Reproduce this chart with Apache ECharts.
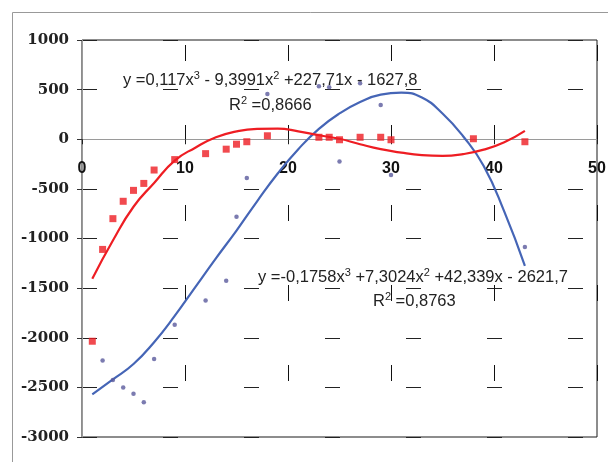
<!DOCTYPE html>
<html>
<head>
<meta charset="utf-8">
<script src="https://cdn.jsdelivr.net/npm/echarts@6/dist/echarts.min.js"></script>
<style>
  html, body { margin: 0; padding: 0; background: #fff; }
  #main { width: 608px; height: 462px; }
</style>
</head>
<body>
<div id="main"></div>
<script>
// measured points (x shared by both series)
const xs = [1, 2, 3, 4, 5, 6, 7, 9, 12, 14, 15, 16, 18, 23, 24, 25, 27, 29, 30, 38, 43];
const redVals = [-2035, -1110, -800, -625, -515, -445, -310, -205, -145, -100, -50, -25, 35, 20, 20, -5, 20, 20, -5, 5, -25];
const blueVals = [null, -2230, -2425, -2500, -2565, -2650, -2215, -1870, -1625, -1425, -780, -390, 455, 535, 525, -225, 565, 345, -360, null, -1085];

// trend lines
const trendX = [1, 3, 5, 7, 9, 11, 13, 15, 17, 19, 21, 23, 25, 27, 29, 31, 33, 35, 37, 39, 41, 43];
const redTrend = [-1405, -1020, -680, -440, -215, -85, 20, 80, 105, 108, 80, 40, 5, -50, -100, -135, -160, -168, -150, -105, -30, 85];
const blueTrend = [-2570, -2420, -2265, -2045, -1780, -1490, -1200, -920, -625, -345, -100, 105, 260, 375, 450, 470, 420, 260, 30, -270, -730, -1275];

const eqRed = '{a|y =0,117x}{s|3}{a| - 9,3991x}{s|2}{a| +227,71x - 1627,8}';
const r2Red = '{a|R}{s|2}{a| =0,8666}';
const eqBlue = '{a|y =-0,1758x}{s|3}{a| +7,3024x}{s|2}{a| +42,339x - 2621,7}';
const r2Blue = '{a|R}{s|2}{a| =0,8763}';

function pairs(x, y) {
    return x.map((v, i) => [v, y[i]]).filter(p => p[1] !== null);
}

const RED = '#ee1d23';
const BLUE = '#4565b6';

const rich = {
    a: { fontFamily: 'Liberation Sans', fontSize: 16.5, fill: '#222', lineHeight: 20 },
    s: { fontFamily: 'Liberation Sans', fontSize: 11, fill: '#222', verticalAlign: 'top' }
};

function eqText(x, y, txt) {
    return {
        type: 'text', x: x, y: y, z: 20,
        style: { text: txt, rich: rich, verticalAlign: 'middle', fill: '#222' }
    };
}

const option = {
    animation: false,
    grid: { left: 82, right: 11, top: 40, bottom: 25, show: true, borderColor: '#1a1a1a', borderWidth: 1,
            containLabel: false, outerBoundsMode: 'none' },
    xAxis: {
        type: 'value', min: 0, max: 50, interval: 10, position: 'bottom',
        axisLine: { show: true, onZero: false, lineStyle: { color: '#9a9a9a', width: 1 } },
        axisTick: { show: true, length: 5, lineStyle: { color: '#222' } },
        axisLabel: { margin: 21, fontFamily: 'Liberation Sans', fontWeight: 'bold', fontSize: 16, color: '#111' },
        splitLine: { show: true, lineStyle: { color: '#111', width: 1, type: [16, 64], dashOffset: -5 } }
    },
    yAxis: {
        type: 'value', min: -3000, max: 1000, interval: 500,
        axisLine: { show: true, onZero: false, lineStyle: { color: '#9a9a9a', width: 1 } },
        axisTick: { show: true, length: 5, lineStyle: { color: '#333' } },
        axisLabel: { margin: 13, fontFamily: 'DejaVu Serif', fontWeight: 'bold', fontSize: 15, color: '#222',
                     formatter: v => String(v) },
        splitLine: { show: true, lineStyle: { color: '#222', width: 1, type: [15, 66] } }
    },
    graphic: [
        { type: 'rect', shape: { x: 12.5, y: 12.5, width: 700, height: 700 }, style: { fill: null, stroke: '#999', lineWidth: 1 }, z: -1 },
        eqText(123, 80, eqRed),
        eqText(229, 105, r2Red),
        eqText(258, 277, eqBlue),
        eqText(373, 301, r2Blue)
    ],
    series: [
        { type: 'line', data: pairs(trendX, blueTrend), smooth: true, showSymbol: false,
          lineStyle: { color: BLUE, width: 2.2 }, z: 2 },
        { type: 'line', data: pairs(trendX, redTrend), smooth: true, showSymbol: false,
          lineStyle: { color: RED, width: 2.2 }, z: 3 },
        { type: 'scatter', data: pairs(xs, blueVals), symbol: 'circle', symbolSize: 4.5,
          itemStyle: { color: '#5a5a9c' }, z: 4 },
        { type: 'scatter', data: pairs(xs, redVals), symbol: 'rect', symbolSize: 7,
          itemStyle: { color: RED }, z: 5 }
    ]
};

const chart = echarts.init(document.getElementById('main'));
chart.setOption(option);

// move the x axis up to y = 0
const zeroY = chart.convertToPixel({ yAxisIndex: 0 }, 0);
const bottomY = chart.convertToPixel({ yAxisIndex: 0 }, -3000);
chart.setOption({ xAxis: { offset: zeroY - bottomY } });
</script>
</body>
</html>
